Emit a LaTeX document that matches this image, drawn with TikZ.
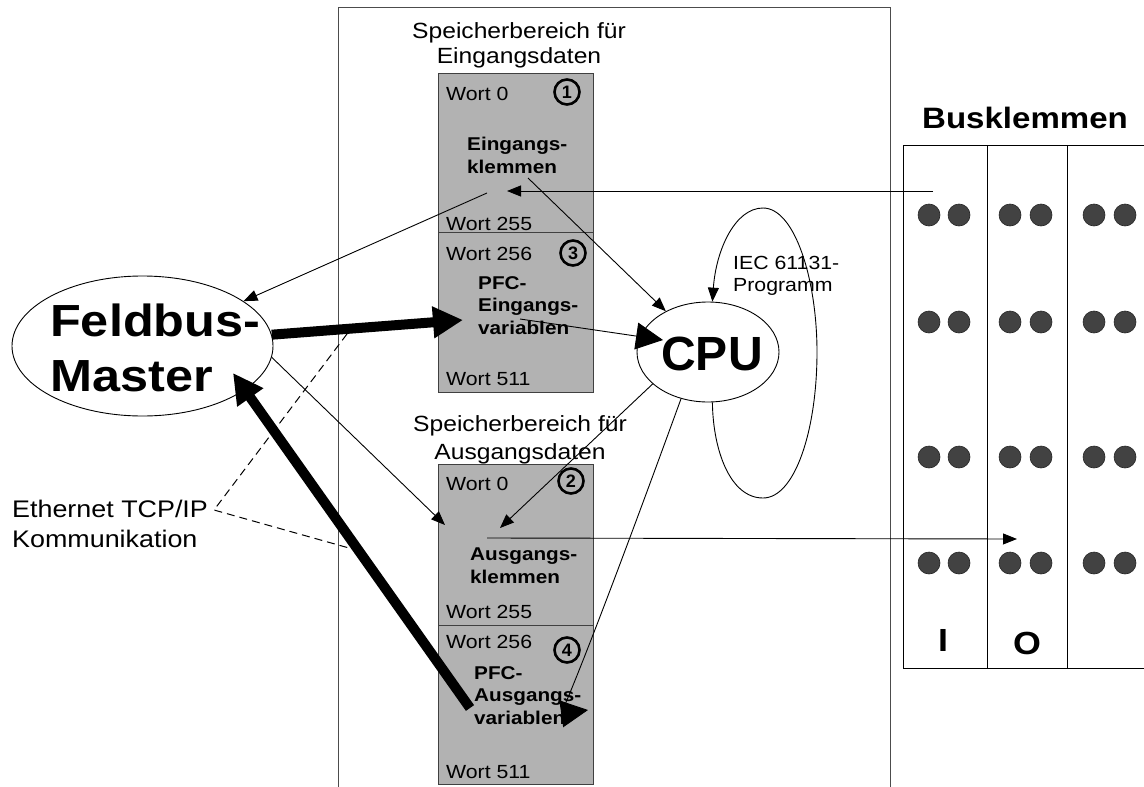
\documentclass[tikz,border=0pt]{standalone}
\usepackage{fontspec}
\setmainfont{Liberation Sans}[FakeStretch=1.12]
\newfontfamily\cpufont{Liberation Sans}
\usetikzlibrary{arrows.meta, shapes.geometric}
\definecolor{memgray}{RGB}{178,178,178}
\definecolor{dotgray}{RGB}{66,66,66}
\newcommand\fs[2]{\fontsize{#1}{#2}\selectfont}
\tikzset{
  memblock/.style={draw=black!75, line width=1.2pt, fill=memgray, minimum width=155pt, inner sep=0pt, anchor=north west},
  wort/.style={anchor=base west, inner sep=0pt, font=\fs{19}{22}},
  boldtext/.style={anchor=north west, inner sep=0pt, align=left, font=\fs{18.5}{22.5}\bfseries},
  num/.style={draw, circle, line width=2.6pt, minimum size=25pt, inner sep=0pt, font=\cpufont\fs{18}{18}\bfseries},
  pin/.style={circle, fill=dotgray, draw=black!85, line width=0.6pt, minimum size=22pt, inner sep=0pt},
  thinarr/.style={line width=0.9pt, -{Triangle[length=14pt,width=11pt]}},
  bigarr/.style={line width=0.9pt, -{Triangle[length=27pt,width=27pt]}},
  fatarr/.style={line width=10pt, -{Triangle[length=30pt,width=30pt]}},
}
\begin{document}
\begin{tikzpicture}[x=1pt, y=-1pt]
\useasboundingbox (0,0) rectangle (1144,787);
\node[draw=black!70, line width=1.2pt, minimum width=552pt, minimum height=800pt, anchor=north west, inner sep=0pt] (ctrl) at (338,7) {};
\node[memblock, minimum height=159pt] (ein1) at (438,73) {};
\node[memblock, minimum height=160pt] (ein3) at (438,232) {};
\node[memblock, minimum height=161pt] (aus2) at (438,464) {};
\node[memblock, minimum height=159pt] (aus4) at (438,625) {};
\node[anchor=north, inner sep=0pt, align=center, font=\fs{22}{25}] (tein) at (519,22) {Speicherbereich für\\Eingangsdaten};
\node[anchor=north, inner sep=0pt, align=center, font=\fs{22}{28}] (taus) at (520,415) {Speicherbereich für\\Ausgangsdaten};
\node[wort] (w0e) at (446,100) {Wort 0};
\node[wort] (w255e) at (446,230) {Wort 255};
\node[wort] (w256e) at (446,260) {Wort 256};
\node[wort] (w511e) at (446,385) {Wort 511};
\node[wort] (w0a) at (446,490) {Wort 0};
\node[wort] (w255a) at (446,618) {Wort 255};
\node[wort] (w256a) at (446,648) {Wort 256};
\node[wort] (w511a) at (446,778) {Wort 511};
\node[num] (n1) at (567,92) {1};
\node[num] (n3) at (573,253) {3};
\node[num] (n2) at (571,481) {2};
\node[num] (n4) at (567,650) {4};
\node[boldtext] (kle) at (467,137) {Eingangs-\\klemmen};
\node[boldtext] (pfce) at (478,276) {PFC-\\Eingangs-\\variablen};
\node[boldtext] (kla) at (470,548) {Ausgangs-\\klemmen};
\node[boldtext] (pfca) at (474,666) {PFC-\\Ausgangs-\\variablen};
\node[draw, ellipse, line width=0.9pt, minimum width=261pt, minimum height=140pt, inner sep=0pt] (fm) at (142.5,346) {};
\node[anchor=north west, inner sep=0pt, align=left, font=\fs{45}{55}\bfseries] (fmt) at (50,304) {Feldbus-\\Master};
\node[draw, ellipse, line width=0.9pt, minimum width=142pt, minimum height=100pt, inner sep=0pt] (cpu) at (708,352) {};
\node[anchor=base, inner sep=0pt, font=\cpufont\fs{48}{48}\bfseries] (cput) at (712,370) {CPU};
\node[anchor=north west, inner sep=0pt, align=left, font=\fs{19}{22}] (iec) at (733,256) {IEC 61131-\\Programm};
\node[anchor=north west, inner sep=0pt, align=left, font=\fs{24}{30}] (eth) at (12,500) {Ethernet TCP/IP\\Kommunikation};
\node[anchor=base, inner sep=0pt, font=\fs{29.5}{30}\bfseries] (bkt) at (1025,128) {Busklemmen};
\node[draw, line width=1pt, minimum width=250pt, minimum height=523pt, anchor=north west, inner sep=0pt] (bk) at (903,145) {};
\draw[line width=1pt] (987,145) -- (987,668) (1067,145) -- (1067,668);
\foreach \r in {215,322,457,563}
  \foreach \c in {929,959,1010,1041,1094,1125}
    \node[pin] (p\c-\r) at (\c,\r) {};
\node[anchor=base, inner sep=0pt, font=\fs{32}{32}\bfseries] (io1) at (943,651) {I};
\node[anchor=base, inner sep=0pt, font=\fs{32}{32}\bfseries] (io2) at (1027,654) {O};
\coordinate (bs) at (933,191);
\coordinate (ei) at (507,191);
\coordinate (es) at (528,178);
\coordinate (es2) at (487,193);
\coordinate (pi) at (463,320);
\coordinate (ps) at (520,319);
\coordinate (ci) at (663,340);
\coordinate (ai) at (445,525);
\coordinate (ai2) at (500,528);
\coordinate (as) at (487,538);
\coordinate (bi) at (1017,539);
\coordinate (qi) at (588,710);
\coordinate (qs) at (470,708);
\coordinate (fi) at (233,373);
\coordinate (et) at (214,510);
\coordinate (ea) at (347,334);
\coordinate (eb) at (349,548);
\draw[thinarr] (bs) -- (ei);
\draw[thinarr] (es) -- (cpu);
\draw[thinarr] (es2) -- (fm);
\draw[fatarr] (fm.5) -- (pi);
\draw[bigarr] (ps) -- (ci);
\draw[thinarr] (fm.-5) -- (ai);
\draw[thinarr] (cpu.210) -- (ai2);
\draw[thinarr] (as) -- (bi);
\draw[bigarr] (cpu.240) .. controls (575,690) and (560,714) .. (qi);
\draw[fatarr] (qs) -- (fi);
\draw[thinarr] (cpu.-85) .. controls (713,450) and (730,498) .. (763,498) .. controls (795,498) and (817,430) .. (817,352) .. controls (817,280) and (795,208) .. (763,208) .. controls (735,208) and (716,250) .. (cpu.85);
\draw[dash pattern=on 8pt off 5pt, line width=1pt] (ea) -- (et) -- (eb);
\end{tikzpicture}
\end{document}
